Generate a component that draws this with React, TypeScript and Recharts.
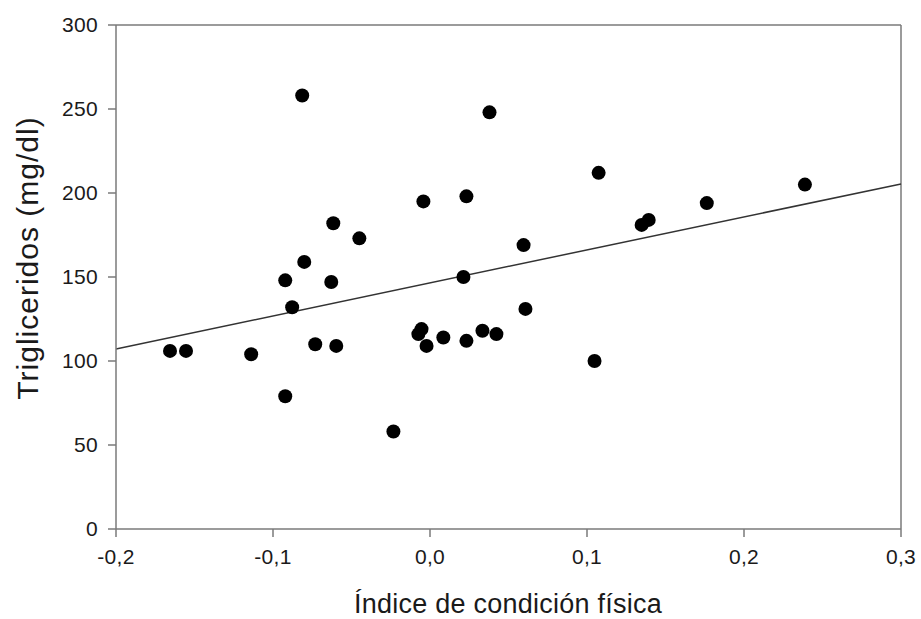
import React from 'react';
import { ScatterChart, Scatter, XAxis, YAxis, ReferenceLine, Label } from 'recharts';

// índice de condición física vs triglicéridos
const fitness = [
  -0.1656, -0.1554, -0.1139, -0.0922, -0.0922, -0.0878, -0.0814, -0.0801, -0.0731,
  -0.0629, -0.0616, -0.0597, -0.0450, -0.0233, -0.0074, -0.0054, -0.0042, -0.0022,
  0.0085, 0.0213, 0.0232, 0.0232, 0.0334, 0.0379, 0.0423, 0.0596, 0.0608, 0.1048,
  0.1074, 0.1348, 0.1393, 0.1763, 0.2388,
];
const triglycerides = [
  106, 106, 104, 79, 148, 132, 258, 159, 110,
  147, 182, 109, 173, 58, 116, 119, 195, 109,
  114, 150, 112, 198, 118, 248, 116, 169, 131, 100,
  212, 181, 184, 194, 205,
];

// recta de regresión (extremos)
const fitX = [-0.2, 0.3];
const fitY = [107.2, 205.4];

const xTicks = [-0.2, -0.1, 0, 0.1, 0.2, 0.3];
const yTicks = [0, 50, 100, 150, 200, 250, 300];

const points = fitness.map((x, i) => ({ x, y: triglycerides[i] }));

const axisColor = '#7a7a7a';
const textColor = '#1a1a1a';
const fontFamily = '"Liberation Sans", Arial, sans-serif';

const Dot = (props: any) => {
  const { cx, cy } = props;
  return <circle cx={cx} cy={cy} r={7} fill="#000" />;
};

const fmt = (v: number) => v.toFixed(1).replace('.', ',');

const tickStyle = { fill: textColor, fontSize: 21, fontFamily, letterSpacing: 0.3 };

export default function App() {
  return (
    <div style={{ width: 921, height: 619, background: '#fff', fontFamily }}>
      <style>{`body { margin: 0; }`}</style>
      <ScatterChart
        width={921}
        height={619}
        margin={{ top: 25, right: 20, bottom: 30, left: 50 }}
      >
        <XAxis
          type="number"
          dataKey="x"
          domain={[-0.2, 0.3]}
          ticks={xTicks}
          tickFormatter={fmt}
          stroke={axisColor}
          strokeWidth={1.5}
          tickSize={8}
          tickMargin={12}
          height={60}
          tick={tickStyle}
          allowDataOverflow
        >
          <Label
            content={() => (
              <text
                x={508}
                y={604}
                textAnchor="middle"
                dominantBaseline="central"
                fill={textColor}
                fontSize={27}
                fontFamily={fontFamily}
                letterSpacing={0.25}
              >
                Índice de condición física
              </text>
            )}
          />
        </XAxis>
        <YAxis
          type="number"
          dataKey="y"
          domain={[0, 300]}
          ticks={yTicks}
          stroke={axisColor}
          strokeWidth={1.5}
          tickSize={8}
          tickMargin={10}
          width={66}
          tick={tickStyle}
          allowDataOverflow
        >
          <Label
            content={() => (
              <text
                x={27}
                y={258}
                transform="rotate(-90, 27, 258)"
                textAnchor="middle"
                dominantBaseline="central"
                fill={textColor}
                fontSize={30}
                fontFamily={fontFamily}
                letterSpacing={1}
              >
                Trigliceridos (mg/dl)
              </text>
            )}
          />
        </YAxis>
        <ReferenceLine y={300} stroke={axisColor} strokeWidth={1.5} />
        <ReferenceLine x={0.3} stroke={axisColor} strokeWidth={1.5} />
        <ReferenceLine
          segment={[
            { x: fitX[0], y: fitY[0] },
            { x: fitX[1], y: fitY[1] },
          ]}
          stroke="#333"
          strokeWidth={1.5}
        />
        <Scatter data={points} shape={<Dot />} isAnimationActive={false} />
      </ScatterChart>
    </div>
  );
}
